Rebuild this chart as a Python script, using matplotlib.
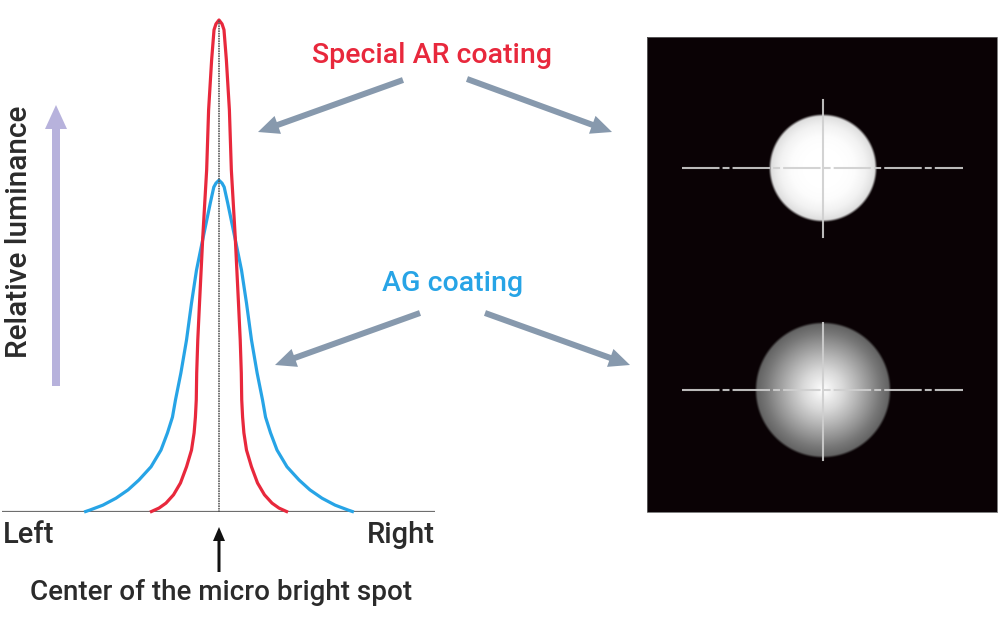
import numpy as np
import matplotlib
matplotlib.use("Agg")
import matplotlib.pyplot as plt
from matplotlib import font_manager
from matplotlib.patches import FancyArrow, Rectangle

# ---------------- data ----------------
# half-profiles: distance from spot centre (1 unit = half of the axis) vs relative luminance
ar_offset = [0.0, 0.014, 0.023, 0.034, 0.048, 0.057, 0.075, 0.090, 0.098, 0.103,
             0.105, 0.109, 0.115, 0.127, 0.150, 0.178, 0.210, 0.245, 0.277, 0.312]
ar_lum = [1.000, 0.992, 0.980, 0.919, 0.817, 0.695, 0.558, 0.424, 0.349, 0.282,
          0.227, 0.192, 0.160, 0.125, 0.091, 0.058, 0.034, 0.017, 0.007, 0.0]

ag_offset = [0.0, 0.014, 0.024, 0.040, 0.073, 0.104, 0.127, 0.150, 0.176, 0.201,
             0.215, 0.238, 0.268, 0.314, 0.370, 0.420, 0.476, 0.536, 0.596, 0.616]
ag_lum = [0.674, 0.668, 0.660, 0.628, 0.558, 0.491, 0.424, 0.349, 0.282, 0.227,
          0.192, 0.160, 0.125, 0.091, 0.064, 0.044, 0.027, 0.013, 0.003, 0.0]

# radial brightness of the two spots in the photo panel (fraction of radius -> grey level)
ar_spot_r = [0.0, 0.4, 0.6, 0.8, 0.9, 1.0]
ar_spot_level = [1.0, 1.0, 0.99, 0.95, 0.91, 0.86]
ag_spot_r = [0.0, 0.1, 0.3, 0.5, 0.7, 0.85, 1.0]
ag_spot_level = [1.0, 0.95, 0.85, 0.72, 0.58, 0.47, 0.38]

labels = {"ar": "Special AR coating", "ag": "AG coating",
          "y": "Relative luminance", "left": "Left", "right": "Right",
          "center": "Center of the micro bright spot"}

# ---------------- styling ----------------
names = {f.name for f in font_manager.fontManager.ttflist}
font = "Liberation Sans Narrow" if "Liberation Sans Narrow" in names else "Roboto"
plt.rcParams["font.family"] = [font, "DejaVu Sans"]
plt.rcParams["lines.scale_dashes"] = False
FW = "medium"

RED = "#e8283c"
BLUE = "#27a4e6"
ARROW = "#8799ad"
TXT = "#2b2b2b"

fig = plt.figure(figsize=(10, 6.25), dpi=100)
fig.patch.set_facecolor("white")

# overlay axes in pixel coordinates
ov = fig.add_axes([0, 0, 1, 1])
ov.set_xlim(0, 1000)
ov.set_ylim(625, 0)
ov.axis("off")

# curves axes
cx, unit = 219.0, 216.5
base_px, top_px = 511.5, 20.0
ax = fig.add_axes([2 / 1000, (625 - base_px) / 625, 433 / 1000, (base_px - top_px) / 625])
ax.set_xlim((2 - cx) / unit, (435 - cx) / unit)
ax.set_ylim(0, 1)
ax.axis("off")
ax.patch.set_alpha(0)


def mirror(off, lum):
    off = np.asarray(off)
    lum = np.asarray(lum)
    return np.concatenate([-off[::-1], off[1:]]), np.concatenate([lum[::-1], lum[1:]])


xb, yb = mirror(ag_offset, ag_lum)
xr, yr = mirror(ar_offset, ar_lum)
ax.plot(xb, yb, color=BLUE, lw=2.3, solid_joinstyle="round", clip_on=False, zorder=3)
ax.plot(xr, yr, color=RED, lw=2.3, solid_joinstyle="round", clip_on=False, zorder=4)
ax.axhline(0, color="#6e6e6e", lw=1.6, zorder=2)
ax.plot([0, 0], [0, 1], color="#505050", lw=1.1, ls=(0, (1.2, 0.6)), zorder=5, clip_on=False)

# texts
ov.text(3, 543, labels["left"], fontsize=21, color=TXT, ha="left", va="baseline", fontweight=FW)
ov.text(435, 543, labels["right"], fontsize=21, color=TXT, ha="right", va="baseline", fontweight=FW)
ov.text(221, 600, labels["center"], fontsize=20, color=TXT, ha="center", va="baseline", fontweight=FW)
ov.text(19, 232, labels["y"], fontsize=21.5, color=TXT, ha="center", va="center", rotation=90,
        fontweight=FW)
ov.text(432, 63, labels["ar"], fontsize=20.5, color=RED, ha="center", va="baseline", fontweight=FW)
ov.text(453, 291, labels["ag"], fontsize=20.5, color=BLUE, ha="center", va="baseline", fontweight=FW)

# black arrow under centre
ov.add_patch(FancyArrow(219, 572, 0, -45, width=3, head_width=12, head_length=14,
                        length_includes_head=True, color="#111111", lw=0))
# lavender luminance arrow
ov.add_patch(FancyArrow(56, 386, 0, -281, width=8, head_width=22, head_length=24,
                        length_includes_head=True, color="#b7b2dc", lw=0))

# grey pointer arrows
for (x0, y0, x1, y1) in [(403, 80, 258, 132), (467, 79, 612, 132),
                         (420, 313, 275, 365), (485, 313, 630, 365)]:
    ov.add_patch(FancyArrow(x0, y0, x1 - x0, y1 - y0, width=6, head_width=19, head_length=21,
                            length_includes_head=True, color=ARROW, lw=0))

# photo panel
px0, py0, px1, py1 = 647, 37, 997, 512
bg = np.array([0.04, 0.01, 0.02])
res = 2
W, H = (px1 - px0) * res, (py1 - py0) * res
gx = px0 + (np.arange(W) + 0.5) / res
gy = py0 + (np.arange(H) + 0.5) / res
GX, GY = np.meshgrid(gx, gy)
img = np.ones((H, W, 3)) * bg
for (scx, scy, R, rr, lv) in [(823, 168, 53, ar_spot_r, ar_spot_level),
                               (823, 390, 67, ag_spot_r, ag_spot_level)]:
    d = np.hypot(GX - scx, GY - scy)
    level = np.interp(d / R, rr, lv)
    edge = np.clip((R - d) / 2.5 + 0.5, 0, 1)
    for c in range(3):
        img[..., c] = img[..., c] * (1 - edge) + level * edge
ov.imshow(img, extent=(px0, px1, py1, py0), interpolation="bilinear", zorder=1, aspect="auto")
ov.add_patch(Rectangle((px0, py0), px1 - px0, py1 - py0, fill=False, ec="#666666", lw=0.6, zorder=2))

# crosshairs
cross = "#cfcfcf"
for (scy, vy0, vy1) in [(168, 100, 237), (390, 323, 460)]:
    ov.plot([682, 963], [scy, scy], color=cross, lw=1.5, ls=(0, (27, 2.2, 5, 2.2)),
            solid_capstyle="butt", dash_capstyle="butt", zorder=3, alpha=0.9)
    ov.plot([823, 823], [vy0, vy1], color=cross, lw=1.5, zorder=3, alpha=0.9)
ov.set_xlim(0, 1000)
ov.set_ylim(625, 0)

fig.savefig("out.png", dpi=100, facecolor="white")
